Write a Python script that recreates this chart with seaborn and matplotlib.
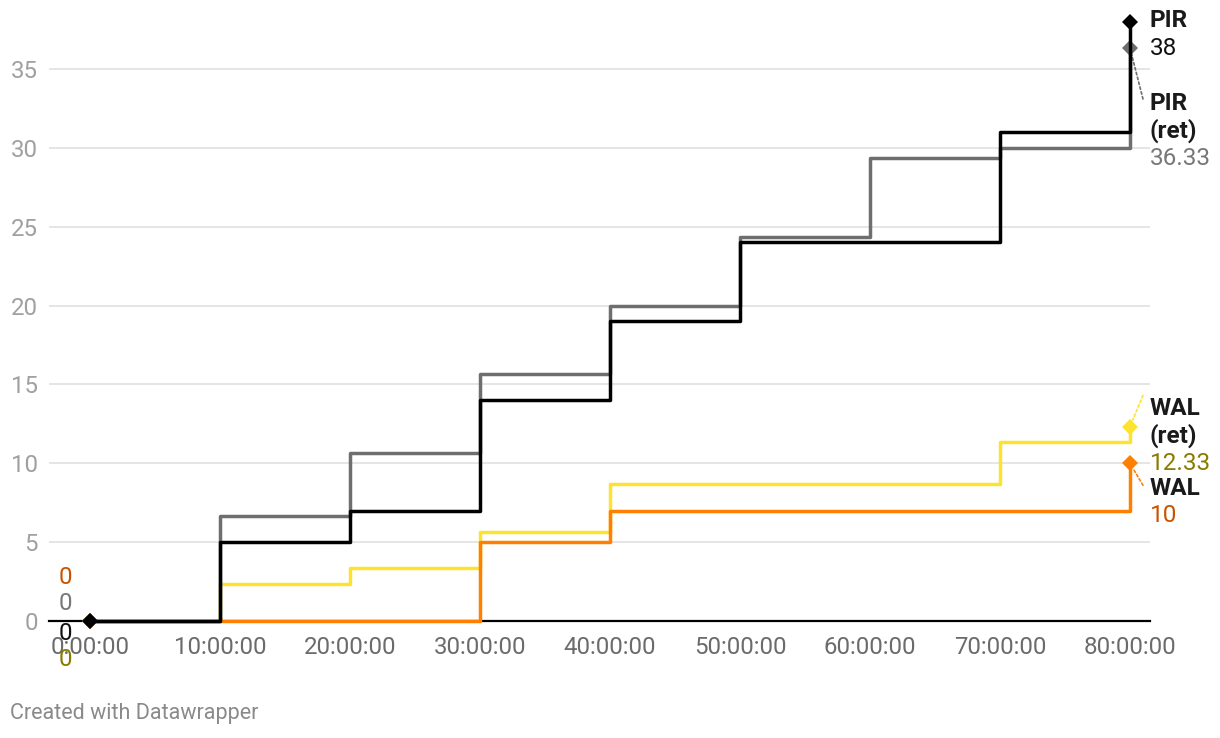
import seaborn as sns
import matplotlib.pyplot as plt
import pandas as pd

sns.set_style(style='white')
plt.rcParams['font.family'] = ['Roboto', 'DejaVu Sans']

hours = [0, 10, 20, 30, 40, 50, 60, 70, 80]
pir = [0, 5, 7, 14, 19, 24, 24, 31, 38]
pir_ret = [0, 6.67, 10.67, 15.67, 20, 24.33, 29.33, 30, 36.33]
wal_ret = [0, 2.33, 3.33, 5.67, 8.67, 8.67, 8.67, 11.33, 12.33]
wal = [0, 0, 0, 5, 7, 7, 7, 7, 10]

x_ticks = [0, 10, 20, 30, 40, 50, 60, 70, 80]
x_tick_labels = ['{}:00:00'.format(h) for h in x_ticks]
y_ticks = [0, 5, 10, 15, 20, 25, 30, 35]

# name, values, line colour, value-label colour, label lines
series = [
    ('WAL (ret)', wal_ret, '#fde22f', '#8a7a00', ['WAL', '(ret)']),
    ('WAL', wal, '#ff8000', '#c85400', ['WAL']),
    ('PIR (ret)', pir_ret, '#6e6e6e', '#777777', ['PIR', '(ret)']),
    ('PIR', pir, '#000000', '#111111', ['PIR']),
]

# label placement (pixels, relative to the end point): text offset, connector end
label_pos = {
    'PIR': (20, 1, None),
    'PIR (ret)': (20, -55, (13, -51)),
    'WAL (ret)': (20, 18, (13, 31)),
    'WAL': (20, -25, (13, -22)),
}
start_offsets = {'WAL': 43, 'PIR (ret)': 17, 'PIR': -13, 'WAL (ret)': -38}

df = pd.DataFrame({'hours': hours * len(series),
                   'value': sum([s[1] for s in series], []),
                   'series': sum([[s[0]] * len(hours) for s in series], [])})

fig = plt.figure(figsize=(12.2, 7.38), dpi=100)
ax = fig.add_axes([49 / 1220, 1 - 621 / 738, 1101 / 1220, 611 / 738])

for i, (name, vals, color, lab_color, lines) in enumerate(series):
    sub = df[df['series'] == name]
    sns.lineplot(x='hours', y='value', data=sub, color=color, linewidth=2.5,
                 drawstyle='steps-post', marker='D', markersize=8, markevery=[0, len(hours) - 1],
                 markeredgewidth=0, errorbar=None, ax=ax, zorder=4 + i, clip_on=False)

ax.set_xlim(-3.15, 81.54)
ax.set_ylim(0, 38.74)
ax.set_xticks(x_ticks)
ax.set_xticklabels(x_tick_labels)
ax.set_yticks(y_ticks)
ax.set(xlabel='', ylabel='')
ax.tick_params(axis='x', length=0, pad=11, labelsize=17.3, labelcolor='#6b6b6b')
ax.tick_params(axis='y', length=0, pad=8, labelsize=17.3, labelcolor='#a0a0a0')
ax.grid(axis='y', color='#e3e3e3', linewidth=1.3)
ax.grid(axis='x', visible=False)
for side in ['left', 'right', 'top']:
    ax.spines[side].set_visible(False)
ax.spines['bottom'].set_color('#000000')
ax.spines['bottom'].set_linewidth(1.6)
ax.spines['bottom'].set_zorder(3)
ax.set_axisbelow(True)

# end labels
for name, vals, color, lab_color, lines in series:
    dx, dy, conn = label_pos[name]
    end = (hours[-1], vals[-1])
    texts = lines + ['{:g}'.format(vals[-1])]
    for k, t in enumerate(texts):
        is_val = k == len(texts) - 1
        ax.annotate(t, xy=end, xytext=(dx, dy - 27.5 * k), textcoords='offset pixels',
                    ha='left', va='center', fontsize=17.5,
                    fontweight='normal' if is_val else 'bold',
                    color=lab_color if is_val else '#1a1a1a', annotation_clip=False)
    if conn is not None:
        ax.annotate('', xy=end, xytext=conn, textcoords='offset pixels',
                    arrowprops=dict(arrowstyle='-', linestyle=(0, (1.5, 1.5)), color=color,
                                    linewidth=1.2, shrinkA=0, shrinkB=5),
                    annotation_clip=False)

# start labels
for name, vals, color, lab_color, lines in series:
    ax.annotate('{:g}'.format(vals[0]), xy=(hours[0], vals[0]),
                xytext=(-18, start_offsets[name]), textcoords='offset pixels',
                ha='right', va='center', fontsize=17.3, color=lab_color,
                annotation_clip=False, zorder=10)

fig.text(10 / 1220, 1 - 714 / 738, 'Created with Datawrapper', color='#8a8a8a',
         fontsize=15.5, va='center', ha='left')

fig.savefig('out.png', dpi=100)
